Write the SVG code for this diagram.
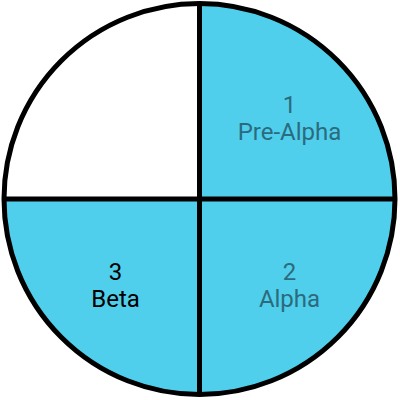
<svg xmlns="http://www.w3.org/2000/svg" width="400" height="400" viewBox="0 0 400 400">
<style>
.q{fill:#4FCFEC;stroke:none}
.t{font-family:Roboto,"Liberation Sans",sans-serif;font-size:24px;text-anchor:middle}
.teal{fill:#2B6B7D}
.dark{fill:#000}
.ln{stroke:#000;stroke-width:5;fill:none}
</style>
<g id="q4"><path d="M199.5,199 L199.5,4 A195.5,195.5 0 0 0 4,199 Z" fill="#fff"/></g>
<g id="q1"><path class="q" d="M199.5,199 L199.5,4 A195.5,195.5 0 0 1 395,199 Z"/><text class="t teal" x="289.5" y="113">1</text><text class="t teal" x="289.5" y="140">Pre-Alpha</text></g>
<g id="q2"><path class="q" d="M199.5,199 L395,199 A195.5,195.5 0 0 1 199.5,394.5 Z"/><text class="t teal" x="289.5" y="280">2</text><text class="t teal" x="289.5" y="307">Alpha</text></g>
<g id="q3"><path class="q" d="M199.5,199 L199.5,394.5 A195.5,195.5 0 0 1 4,199 Z"/><text class="t dark" x="115.5" y="280">3</text><text class="t dark" x="115.5" y="307">Beta</text></g>
<g id="connectors">
<circle class="ln" cx="199.5" cy="199" r="195.5"/>
<line class="ln" x1="199.5" y1="3.5" x2="199.5" y2="394.5"/>
<line class="ln" x1="4" y1="199" x2="395" y2="199"/>
</g>
</svg>
